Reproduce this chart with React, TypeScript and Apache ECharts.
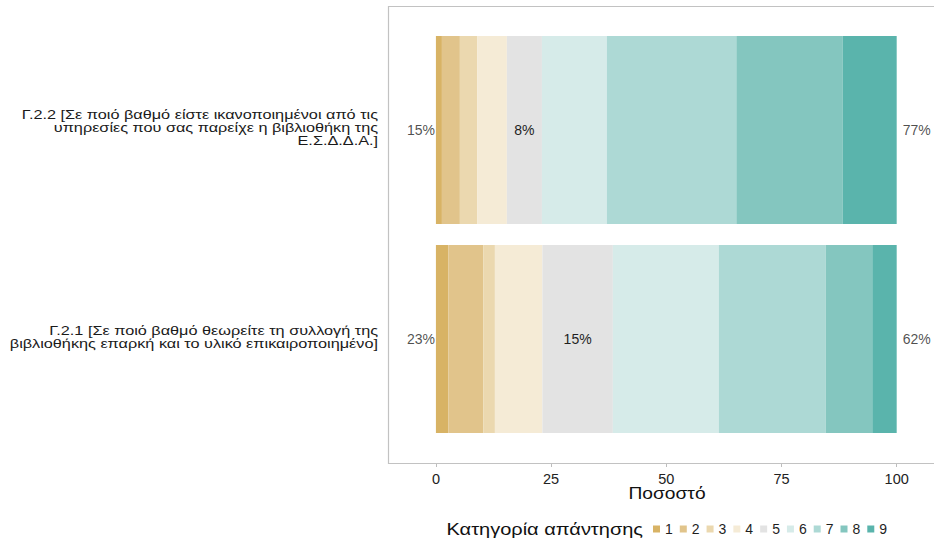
import React, { useEffect, useRef } from "react";
import * as echarts from "echarts";

const categories = [
  "Γ.2.1 [Σε ποιό βαθμό θεωρείτε τη συλλογή της\nβιβλιοθήκης επαρκή και το υλικό επικαιροποιημένο]",
  "Γ.2.2 [Σε ποιό βαθμό είστε ικανοποιημένοι από τις\nυπηρεσίες που σας παρείχε η βιβλιοθήκη της\nΕ.Σ.Δ.Δ.Α.]",
];
const levels = ["1", "2", "3", "4", "5", "6", "7", "8", "9"];
// values per level: [Γ.2.1, Γ.2.2]
const level1 = [2.7, 1.3];
const level2 = [7.6, 3.9];
const level3 = [2.5, 3.8];
const level4 = [10.3, 6.4];
const level5 = [15.3, 7.6];
const level6 = [23.0, 14.1];
const level7 = [23.2, 28.1];
const level8 = [10.1, 23.1];
const level9 = [5.3, 11.7];
const levelValues = [level1, level2, level3, level4, level5, level6, level7, level8, level9];
const lowLabels = ["23%", "15%"];
const neutralLabels = ["15%", "8%"];
const highLabels = ["62%", "77%"];
const xTicks = [0, 25, 50, 75, 100];
const xTitle = "Ποσοστό";
const legendTitle = "Κατηγορία απάντησης";

const colors = [
  "#D8B365",
  "#E1C48B",
  "#EBD8AF",
  "#F5EBD6",
  "#E3E3E3",
  "#D6EBE9",
  "#ADD9D5",
  "#84C6BF",
  "#5AB4AC",
];

const FONT = "'Liberation Sans', Arial, Helvetica, sans-serif";
const X_MIN = -10.4;
const X_MAX = 110.7;

export default function App() {
  const ref = useRef<HTMLDivElement>(null);
  useEffect(() => {
    if (!ref.current) return;
    const chart = echarts.init(ref.current, null, { renderer: "svg" });
    const barSeries = levels.map((name, i) => ({
      name,
      type: "bar",
      stack: "total",
      barWidth: 188,
      data: levelValues[i],
      itemStyle: { color: colors[i] },
      label:
        i === 4
          ? {
              show: true,
              position: "inside",
              formatter: (p: any) => neutralLabels[p.dataIndex],
              fontSize: 14,
              fontFamily: FONT,
              color: "#1f1f1f",
            }
          : { show: false },
      emphasis: { disabled: true },
    }));
    const lowSeries = {
      name: "low",
      type: "scatter",
      symbolSize: 0,
      data: categories.map((_, i) => [0, i]),
      label: {
        show: true,
        position: "left",
        distance: 1,
        formatter: (p: any) => lowLabels[p.dataIndex],
        fontSize: 14,
        fontFamily: FONT,
        color: "#1f1f1f",
      },
    };
    const highSeries = {
      name: "high",
      type: "scatter",
      symbolSize: 0,
      data: categories.map((_, i) => [100, i]),
      label: {
        show: true,
        position: "right",
        distance: 6,
        formatter: (p: any) => highLabels[p.dataIndex],
        fontSize: 14,
        fontFamily: FONT,
        color: "#1f1f1f",
      },
    };
    chart.setOption({
      animation: false,
      backgroundColor: "#ffffff",
      textStyle: { fontFamily: FONT },
      grid: {
        left: 388,
        top: 25.5,
        width: 558,
        height: 418,
        containLabel: false,
        outerBoundsMode: "none",
      },
      xAxis: {
        type: "value",
        min: X_MIN,
        max: X_MAX,
        offset: 20.5,
        axisLine: { show: false },
        axisTick: {
          show: true,
          customValues: xTicks,
          length: 3,
          lineStyle: { color: "#BDBDBD" },
        },
        axisLabel: {
          customValues: xTicks,
          margin: 7,
          fontSize: 14.5,
          fontFamily: FONT,
          color: "#222",
        },
        splitLine: { show: false },
      },
      yAxis: {
        type: "category",
        data: categories,
        axisLine: { show: false },
        axisTick: { show: false },
        axisLabel: { show: false },
      },
      legend: {
        data: levels,
        left: 653,
        top: 522,
        padding: 0,
        itemWidth: 7,
        itemHeight: 7,
        itemGap: 7,
        icon: "rect",
        selectedMode: false,
        textStyle: { fontSize: 14, fontFamily: FONT, color: "#1f1f1f" },
      },
      series: [...barSeries, lowSeries, highSeries],
    });

    // Category labels, axis title and legend title drawn as (horizontally widened) text
    const xLeft = chart.convertToPixel({ xAxisIndex: 0 }, X_MIN) as number;
    const xRight = chart.convertToPixel({ xAxisIndex: 0 }, X_MAX) as number;
    const catTexts = categories.map((c, i) => {
      const y = chart.convertToPixel({ yAxisIndex: 0 }, i) as number;
      return {
        type: "text",
        id: "cat" + i,
        x: xLeft - 10,
        y: y - 2,
        scaleX: 1.25,
        silent: true,
        style: {
          text: c,
          fontSize: 13,
          lineHeight: 13,
          fontFamily: FONT,
          fill: "#1a1a1a",
          align: "right",
          verticalAlign: "middle",
        },
      };
    });
    chart.setOption({
      graphic: [
        {
          type: "rect",
          id: "panelBorder",
          silent: true,
          z: -1,
          shape: { x: Math.round(xLeft) + 0.5, y: 6.5, width: 600, height: 457 },
          style: { fill: "none", stroke: "#C2C2C2", lineWidth: 1.2 },
        },
        ...catTexts,
        {
          type: "text",
          id: "xTitle",
          x: (xLeft + xRight) / 2,
          y: 494,
          scaleX: 1.2,
          silent: true,
          style: {
            text: xTitle,
            fontSize: 16,
            fontFamily: FONT,
            fill: "#111",
            align: "center",
            verticalAlign: "middle",
          },
        },
        {
          type: "text",
          id: "legendTitle",
          x: 643,
          y: 530,
          scaleX: 1.25,
          silent: true,
          style: {
            text: legendTitle,
            fontSize: 16,
            fontFamily: FONT,
            fill: "#111",
            align: "right",
            verticalAlign: "middle",
          },
        },
      ],
    });
    return () => chart.dispose();
  }, []);
  return (
    <div
      ref={ref}
      style={{ position: "fixed", left: 0, top: 0, width: 934, height: 543 }}
    />
  );
}
